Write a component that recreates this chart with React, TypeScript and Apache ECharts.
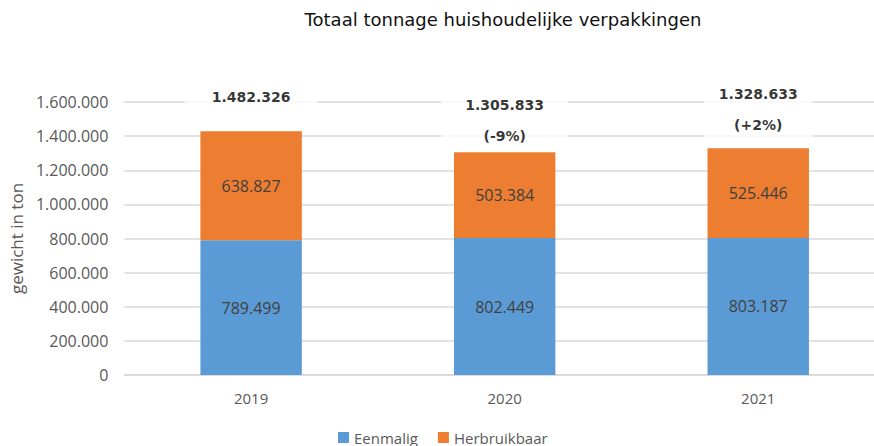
import React, { useEffect, useRef } from "react";
import * as echarts from "echarts";

const categories = ["2019", "2020", "2021"];
const eenmalig = [789499, 802449, 803187];
const herbruikbaar = [638827, 503384, 525446];
const totalLabels = ["1.482.326", "1.305.833", "1.328.633"];
const changeLabels = ["", "(-9%)", "(+2%)"];
const seriesNames = ["Eenmalig", "Herbruikbaar"];
const yMax = 1600000;
const yInterval = 200000;

const fmt = (v: number) =>
  String(Math.round(v)).replace(/\B(?=(\d{3})+(?!\d))/g, ".");

const labelDistances = [18, 0, 7];
const labelPads = [27, 24, 15];

export default function App() {
  const ref = useRef<HTMLDivElement>(null);
  useEffect(() => {
    if (!ref.current) return;
    const chart = echarts.init(ref.current, undefined, { renderer: "svg" });
    const stackTops = eenmalig.map((v, i) => v + herbruikbaar[i]);
    const font = "Open Sans";
    chart.setOption({
      animation: false,
      backgroundColor: "#ffffff",
      title: {
        text: "Totaal tonnage huishoudelijke verpakkingen",
        left: 503,
        top: 10,
        padding: 0,
        textAlign: "center",
        textStyle: {
          fontFamily: "DejaVu Sans",
          fontSize: 18,
          fontWeight: "normal",
          color: "#111111",
        },
      },
      legend: {
        data: seriesNames,
        left: 338,
        top: 430,
        padding: 0,
        itemWidth: 11,
        itemHeight: 11,
        itemGap: 20,
        icon: "rect",
        textStyle: { fontFamily: font, fontSize: 15, color: "#595959" },
      },
      grid: { left: 123, right: 0, top: 102, bottom: 71 },
      xAxis: {
        type: "category",
        data: categories,
        axisTick: { show: false },
        axisLine: { lineStyle: { color: "#D9D9D9", width: 1.5 } },
        axisLabel: {
          margin: 15,
          fontFamily: font,
          fontSize: 15,
          color: "#595959",
        },
      },
      yAxis: {
        type: "value",
        min: 0,
        max: yMax,
        interval: yInterval,
        name: "gewicht in ton",
        nameLocation: "middle",
        nameGap: 96,
        nameRotate: 90,
        nameTextStyle: { fontFamily: font, fontSize: 17, color: "#595959" },
        axisLine: { show: false },
        axisTick: { show: false },
        splitLine: { lineStyle: { color: "#D9D9D9", width: 1.5 } },
        axisLabel: {
          margin: 16,
          fontFamily: font,
          fontSize: 16,
          color: "#595959",
          formatter: (v: number) => fmt(v),
        },
      },
      series: [
        {
          name: seriesNames[0],
          type: "bar",
          stack: "total",
          data: eenmalig,
          barWidth: "40%",
          itemStyle: { color: "#5B9BD5" },
          label: {
            show: true,
            position: "inside",
            fontFamily: font,
            fontSize: 16,
            color: "#404040",
            formatter: (p: any) => fmt(p.value),
          },
        },
        {
          name: seriesNames[1],
          type: "bar",
          stack: "total",
          data: herbruikbaar,
          barWidth: "40%",
          itemStyle: { color: "#ED7D31" },
          label: {
            show: true,
            position: "inside",
            fontFamily: font,
            fontSize: 16,
            color: "#404040",
            formatter: (p: any) => fmt(p.value),
          },
        },
        {
          name: "totaal",
          type: "scatter",
          symbolSize: 1,
          itemStyle: { color: "rgba(0,0,0,0)" },
          silent: true,
          z: 10,
          data: stackTops.map((v, i) => ({
            value: v,
            label: {
              distance: labelDistances[i],
              padding: [0, labelPads[i]],
            },
          })),
          label: {
            show: true,
            position: "top",
            fontFamily: "DejaVu Sans",
            fontWeight: "bold",
            fontSize: 14,
            lineHeight: 31,
            color: "#000000",
            backgroundColor: "#ffffff",
            formatter: (p: any) =>
              changeLabels[p.dataIndex]
                ? totalLabels[p.dataIndex] + "\n" + changeLabels[p.dataIndex]
                : totalLabels[p.dataIndex],
          },
        },
      ],
    });
    return () => chart.dispose();
  }, []);
  return (
    <div
      style={{
        position: "fixed",
        left: 0,
        top: 0,
        width: 874,
        height: 446,
        overflow: "hidden",
        background: "#fff",
      }}
    >
      <div ref={ref} style={{ width: 885, height: 446 }} />
    </div>
  );
}
